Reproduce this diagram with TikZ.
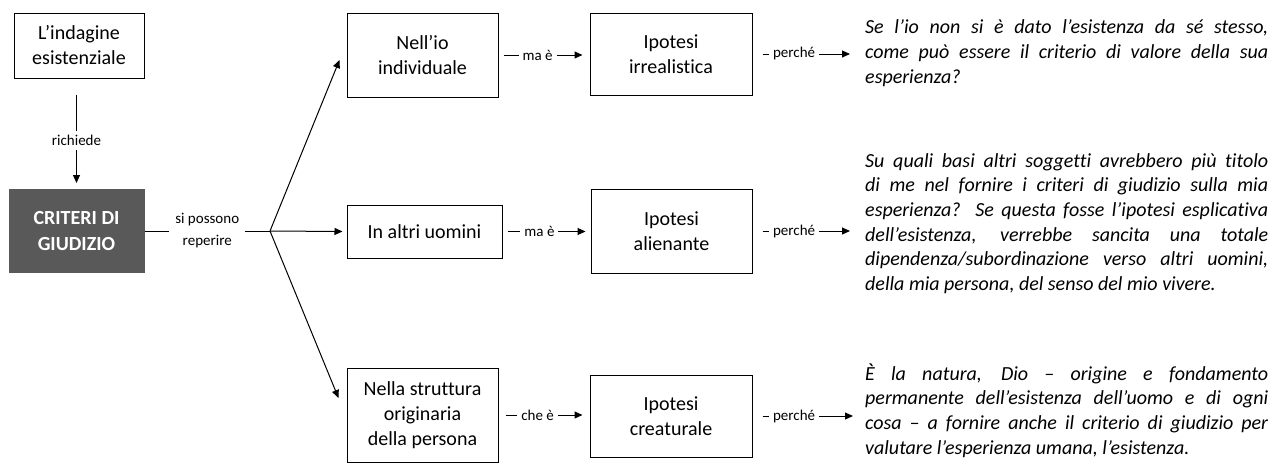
\documentclass[tikz,border=0pt]{standalone}
\usepackage{fontspec}
\setmainfont{Carlito}[Ligatures=NoCommon]
\usetikzlibrary{arrows.meta,calc}
\definecolor{critgray}{HTML}{595959}
\begin{document}
\begin{tikzpicture}[x=1pt,y=-1pt,
  wh/.style 2 args={minimum width=#1pt, minimum height=#2pt},
  box/.style={draw, line width=1pt, align=center, inner sep=0pt, font=\fontsize{20}{25}\selectfont},
  conn/.style={line width=1pt, -{Triangle[length=8pt,width=7pt]}},
  plain/.style={line width=1pt},
  lab/.style={fill=white, inner sep=0pt, inner xsep=4pt, inner ysep=3pt, font=\fontsize{15}{18}\selectfont},
  labbig/.style={fill=white, inner sep=0pt, inner xsep=6pt, inner ysep=4pt, align=center, font=\fontsize{15}{22}\selectfont},
  txt/.style={inner sep=0pt, text width=403pt, align=justify, font=\itshape\fontsize{20}{24.7}\selectfont}]
\useasboundingbox (0,0) rectangle (1270,463);

% left column
\node[box, wh={130}{65}] (ind) at (79,45.5) {L’indagine\\esistenziale};
\node[box, draw=critgray, fill=critgray, text=white, wh={135}{83},
      font=\bfseries\fontsize{20}{26}\selectfont] (crit) at (76.5,231) {CRITERI DI\\GIUDIZIO};
\draw[conn, shorten <=16pt, shorten >=6pt] (ind.south -| crit.north) -- node[labbig, pos=0.56]{richiede} (crit.north);

\coordinate (br) at (270,231);
\draw[plain] (crit.east) -- node[labbig]{si possono\\reperire} (br);

% middle column
\node[box, wh={151}{84}] (n1) at (422.5,55) {Nell’io\\individuale};
\node[box, wh={155}{53}] (n2) at (424.5,231.5) {In altri uomini};
\node[box, wh={151}{94}] (n3) at (422.5,415) {Nella struttura\\originaria\\della persona};

\draw[conn] (br) -- ($(n1.west)+(-7,5)$);
\draw[conn] (br) -- ($(n2.west)+(-4,0)$);
\draw[conn] (br) -- ($(n3.west)+(-8,-17)$);

% hypotheses
\node[box, wh={162}{82}] (h1) at (671,54) {Ipotesi\\irrealistica};
\node[box, wh={161}{84}] (h2) at (671.5,231) {Ipotesi\\alienante};
\node[box, wh={162}{82}] (h3) at (671,416) {Ipotesi\\creaturale};

\draw[conn, shorten <=5pt, shorten >=7pt] (n1.east) -- node[lab, pos=0.43]{ma è} (n1.east -| h1.west);
\draw[conn, shorten <=5pt, shorten >=5pt] (n2.east) -- node[lab, pos=0.42]{ma è} (n2.east -| h2.west);
\draw[conn, shorten <=7pt, shorten >=7pt] (n3.east) -- node[lab, pos=0.43]{che è} (n3.east -| h3.west);

% explanations
\node[txt, anchor=base west] (t1) at (865,34) {Se l’io non si è dato l’esistenza da sé stesso,\linebreak
come può essere il criterio di valore della sua\linebreak
esperienza?};
\node[txt, anchor=base west] (t2) at (865,167) {Su quali basi altri soggetti avrebbero più titolo\linebreak
di me nel fornire i criteri di giudizio sulla mia\linebreak
esperienza? Se questa fosse l’ipotesi esplicativa\linebreak
dell’esistenza, verrebbe sancita una totale\linebreak
dipendenza/subordinazione verso altri uomini,\linebreak
della mia persona, del senso del mio vivere.};
\node[txt, anchor=base west] (t3) at (865,380) {È la natura, Dio – origine e fondamento\linebreak
permanente dell’esistenza dell’uomo e di ogni\linebreak
cosa – a fornire anche il criterio di giudizio per\linebreak
valutare l’esperienza umana, l’esistenza.};

\draw[conn, shorten <=10pt, shorten >=15pt] (h1.east) -- node[lab, pos=0.37]{perché} (h1.east -| t1.west);
\draw[conn, shorten <=10pt, shorten >=15pt] (h2.east) -- node[lab, pos=0.37]{perché} (h2.east -| t2.west);
\draw[conn, shorten <=10pt, shorten >=12pt] (h3.east) -- node[lab, pos=0.37]{perché} (h3.east -| t3.west);
\end{tikzpicture}
\end{document}
